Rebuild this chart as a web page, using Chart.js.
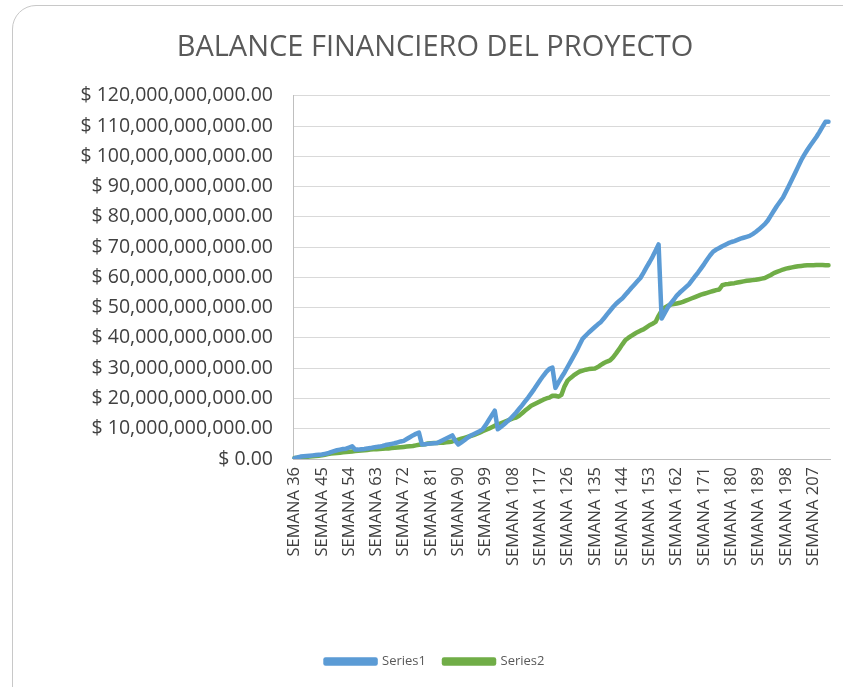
<!DOCTYPE html>
<html>
<head>
<meta charset="utf-8">
<script src="https://cdn.jsdelivr.net/npm/chart.js@4/dist/chart.umd.min.js"></script>
<style>
  html, body { margin: 0; padding: 0; background: #ffffff; }
  #wrap { position: relative; width: 843px; height: 687px; overflow: hidden; }
  #card { position: absolute; left: 12px; top: 5px; width: 860px; height: 720px;
          border: 1px solid #c8c8c8; border-radius: 24px; box-sizing: border-box; }
  canvas { position: absolute; left: 0; top: 0; }
</style>
</head>
<body>
<div id="wrap">
  <div id="card"></div>
  <canvas id="c" width="843" height="687"></canvas>
</div>
<script>
// Weeks shown on the category axis (SEMANA 36 ... SEMANA 212)
const firstWeek = 36;
const lastWeek = 212;
const labelEvery = 9;

// Values in billions of pesos (x 1,000,000,000)
const UNIT = 1e9;

const series1 = [
  0.3, 0.5, 0.8, 0.9, 1.0, 1.1, 1.2, 1.3, 1.4, 1.5,
  1.7, 1.9, 2.3, 2.6, 2.9, 3.1, 3.3, 3.4, 3.8, 4.2,
  3.1, 3.1, 3.2, 3.3, 3.5, 3.6, 3.8, 4.0, 4.1, 4.3,
  4.6, 4.8, 5.0, 5.2, 5.5, 5.8, 6.0, 6.6, 7.2, 7.8,
  8.3, 8.7, 4.8, 4.9, 5.0, 5.1, 5.2, 5.3, 5.8, 6.3,
  6.8, 7.3, 7.8, 6.0, 4.8, 5.5, 6.2, 7.0, 7.7, 8.2,
  8.7, 9.2, 9.8, 11.2, 12.8, 14.4, 16.0, 9.8, 10.6, 11.4,
  12.3, 13.1, 14.2, 15.3, 16.5, 17.7, 19.0, 20.3, 21.7, 23.1,
  24.6, 26.1, 27.5, 28.8, 29.8, 30.2, 23.5, 25.3, 27.0, 28.6,
  30.4, 32.2, 34.0, 35.8, 37.8, 39.8, 40.8, 41.8, 42.7, 43.6,
  44.5, 45.3, 46.5, 47.8, 49.0, 50.2, 51.3, 52.2, 53.0, 54.2,
  55.3, 56.5, 57.6, 58.7, 59.8, 61.5, 63.3, 65.0, 66.8, 68.8,
  70.9, 46.4, 48.2, 50.0, 51.4, 52.6, 54.0, 55.0, 55.9, 56.8,
  57.7, 59.0, 60.3, 61.6, 63.0, 64.4, 65.9, 67.3, 68.5, 69.2,
  69.7, 70.3, 70.8, 71.3, 71.7, 72.0, 72.4, 72.8, 73.1, 73.4,
  73.7, 74.3, 75.0, 75.8, 76.7, 77.6, 78.8, 80.4, 82.0, 83.6,
  85.0, 86.4, 88.4, 90.4, 92.4, 94.5, 96.6, 98.7, 100.5, 102.1,
  103.6, 105.0, 106.4, 108.0, 109.7, 111.4, 111.4
];

const series2 = [
  0.3, 0.4, 0.5, 0.6, 0.7, 0.8, 0.9, 1.0, 1.1, 1.2,
  1.4, 1.6, 1.8, 1.9, 2.0, 2.1, 2.2, 2.3, 2.4, 2.5,
  2.6, 2.7, 2.8, 2.9, 3.0, 3.1, 3.2, 3.2, 3.3, 3.4,
  3.5, 3.5, 3.6, 3.7, 3.8, 3.9, 4.0, 4.1, 4.2, 4.3,
  4.5, 4.7, 4.8, 4.9, 5.1, 5.2, 5.3, 5.3, 5.4, 5.4,
  5.5, 5.6, 5.8, 6.1, 6.4, 6.7, 7.0, 7.3, 7.6, 7.9,
  8.3, 8.7, 9.2, 9.6, 10.0, 10.5, 11.0, 11.4, 11.8, 12.2,
  12.6, 13.0, 13.4, 13.7, 14.3, 15.1, 16.0, 16.8, 17.6, 18.1,
  18.6, 19.1, 19.6, 20.0, 20.3, 20.9, 20.9, 20.6, 21.2, 24.0,
  25.9, 26.8, 27.6, 28.3, 28.9, 29.2, 29.5, 29.7, 29.8, 29.9,
  30.4, 31.1, 31.7, 32.2, 32.6, 33.6, 34.9, 36.3, 37.8, 39.2,
  40.0, 40.7, 41.3, 41.9, 42.4, 42.8, 43.5, 44.2, 44.7, 45.3,
  47.3, 49.0, 50.0, 50.6, 51.0, 51.2, 51.4, 51.6, 51.9, 52.3,
  52.7, 53.1, 53.5, 53.9, 54.3, 54.6, 54.9, 55.2, 55.5, 55.8,
  56.0, 57.4, 57.7, 57.8, 58.0, 58.1, 58.3, 58.5, 58.7, 58.9,
  59.0, 59.1, 59.2, 59.4, 59.6, 59.8, 60.3, 60.8, 61.4, 61.8,
  62.2, 62.6, 62.9, 63.1, 63.3, 63.5, 63.7, 63.8, 63.9, 64.0,
  64.0, 64.0, 64.1, 64.1, 64.1, 64.0, 64.0
];

const categories = [];
for (let w = firstWeek; w <= lastWeek; w++) categories.push('SEMANA ' + w);

const FONT = "'Open Sans', 'Liberation Sans', sans-serif";

function money(v) {
  return '$ ' + (v * UNIT).toLocaleString('en-US', { minimumFractionDigits: 2, maximumFractionDigits: 2 });
}

new Chart(document.getElementById('c'), {
  type: 'line',
  data: {
    labels: categories,
    datasets: [
      { label: 'Series1', data: series1, borderColor: '#5b9bd5', backgroundColor: '#5b9bd5',
        borderWidth: 4.5, pointRadius: 0, tension: 0, borderCapStyle: 'round', borderJoinStyle: 'round' },
      { label: 'Series2', data: series2, borderColor: '#70ad47', backgroundColor: '#70ad47',
        borderWidth: 4.5, pointRadius: 0, tension: 0, borderCapStyle: 'round', borderJoinStyle: 'round' }
    ]
  },
  options: {
    responsive: false,
    animation: false,
    devicePixelRatio: 1,
    layout: { padding: { left: 40, right: 13, top: 0, bottom: 9 } },
    plugins: {
      title: {
        display: true,
        text: 'BALANCE FINANCIERO DEL PROYECTO',
        color: '#595959',
        font: { family: FONT, size: 29, weight: '400' },
        padding: { top: 30, bottom: 31 }
      },
      legend: {
        position: 'bottom',
        labels: {
          boxWidth: 50, boxHeight: 4, padding: 18,
          color: '#595959',
          font: { family: FONT, size: 13 }
        }
      },
      tooltip: { enabled: false }
    },
    scales: {
      x: {
        type: 'category',
        offset: true,
        grid: { display: false, drawTicks: false },
        border: { color: '#bfbfbf', width: 1 },
        ticks: {
          autoSkip: false,
          maxRotation: 90, minRotation: 90,
          padding: 8,
          color: '#404040',
          font: { family: FONT, size: 16.5 },
          callback: function (val, idx) {
            return (idx % labelEvery === 0) ? categories[idx] : '';
          }
        },
        afterFit: function (scale) {
          scale.height = 178;
          scale.paddingLeft = 0;
          scale.paddingRight = 0;
        }
      },
      y: {
        min: 0, max: 120,
        grid: { color: '#d9d9d9', drawTicks: false },
        border: { color: '#bfbfbf', width: 1 },
        ticks: {
          stepSize: 10,
          padding: 20,
          color: '#404040',
          font: { family: FONT, size: 19.5 },
          callback: function (v) { return money(v); }
        },
        afterFit: function (scale) { scale.width = 253; }
      }
    }
  }
});
</script>
</body>
</html>
